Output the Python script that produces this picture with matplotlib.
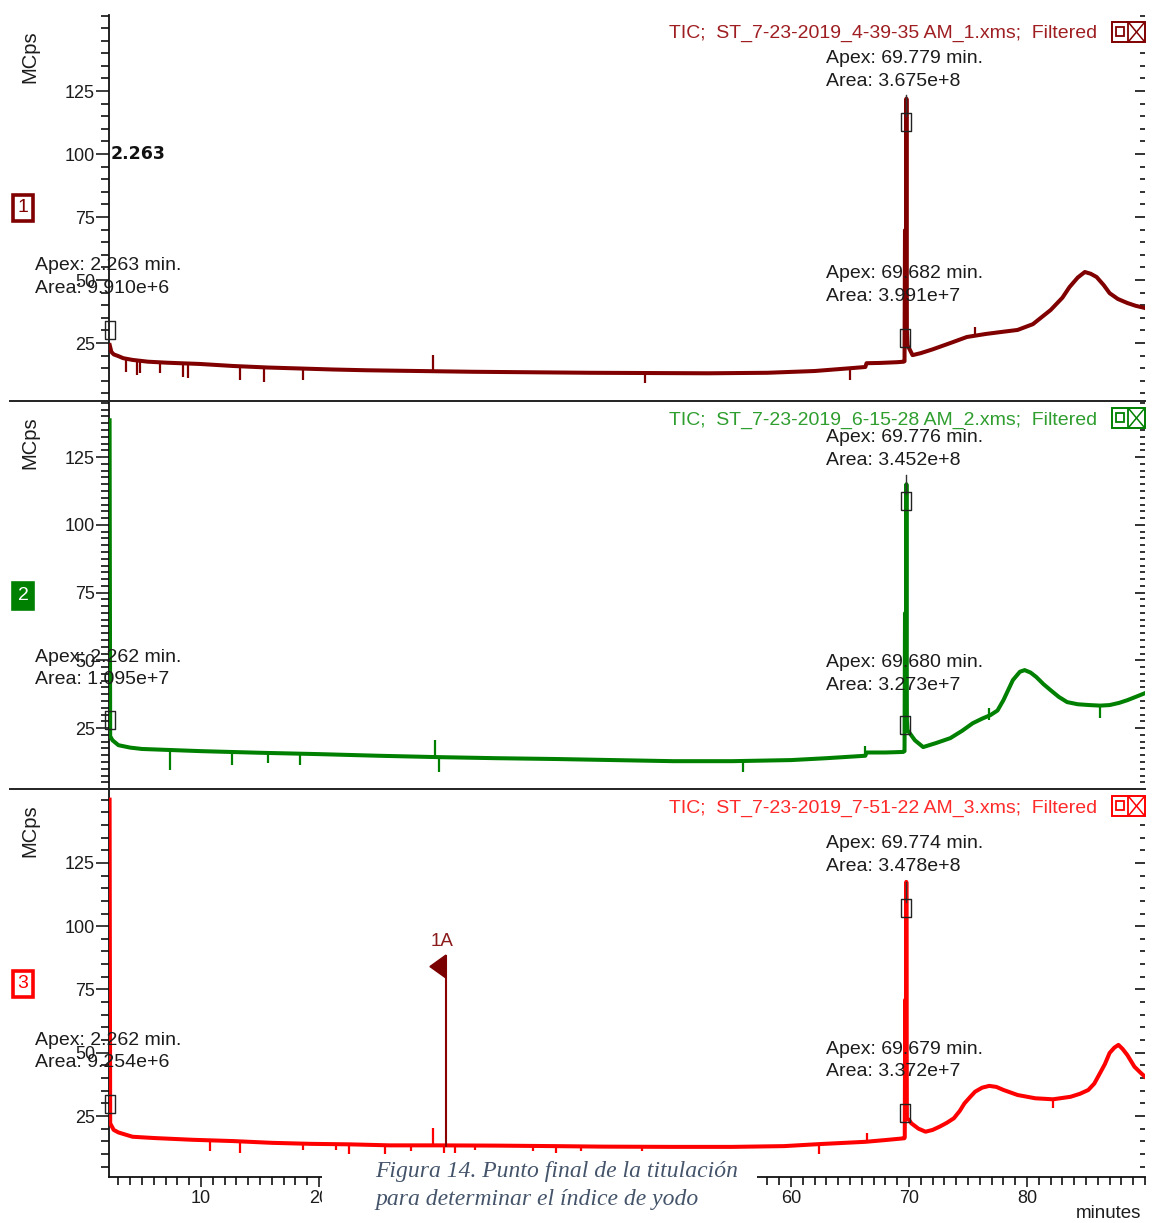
import matplotlib
matplotlib.use("Agg")
import matplotlib.pyplot as plt
from matplotlib.patches import Rectangle, Polygon
from matplotlib.lines import Line2D
from matplotlib.ticker import FixedLocator, MultipleLocator

plt.rcParams['font.family'] = ['Liberation Sans', 'DejaVu Sans']

# ---------------- data ----------------
# Panel 1 : ST_7-23-2019_4-39-35 AM_1.xms
t1 = [2.26, 2.40, 2.60, 3.0, 3.4, 4.2, 5.5, 7.1, 9.9, 12.7, 15.6, 18.4, 21.2, 24.0, 26.9,
      30.0, 33.0, 38.0, 43.0, 48.0, 53.0, 58.0, 62.0, 65.0, 66.3, 66.4, 67.5, 69.0, 69.55,
      69.62, 69.66, 69.70, 69.74, 69.78, 69.82, 69.88, 70.0, 70.3, 71.0, 72.0, 73.5, 74.9,
      76.5, 78.0, 79.2, 80.5, 82.0, 83.0, 83.6, 84.3, 84.9, 85.4, 85.9, 86.5, 87.0, 87.7,
      88.5, 89.2, 90.0]
v1 = [24.2, 21.5, 20.5, 19.8, 19.0, 18.3, 17.6, 17.2, 16.7, 15.9, 15.3, 14.9, 14.5, 14.2, 14.0,
      13.8, 13.6, 13.4, 13.2, 13.1, 13.0, 13.2, 13.9, 15.0, 15.5, 17.0, 17.1, 17.4, 17.6,
      17.8, 69.8, 28.0, 40.0, 122.0, 30.0, 24.0, 23.0, 20.2, 21.0, 22.5, 25.0, 27.4,
      28.6, 29.5, 30.2, 32.5, 38.1, 43.0, 47.2, 51.0, 53.2, 52.5, 51.2, 48.0, 44.8, 42.5,
      40.9, 39.8, 38.9]
spk1_t = [3.6, 4.6, 4.8, 6.5, 8.5, 8.9, 13.3, 15.3, 18.6, 29.7, 47.6, 65.0, 75.6]
spk1_lo = [13.6, 12.3, 13.0, 13.0, 11.6, 11.0, 10.3, 9.7, 10.2, 14.0, 9.1, 10.3, 27.5]
spk1_hi = [19.0, 18.3, 18.2, 17.4, 17.0, 16.9, 15.9, 15.4, 14.9, 20.4, 13.1, 15.0, 31.5]

# Panel 2 : ST_7-23-2019_6-15-28 AM_2.xms
t2 = [2.25, 2.30, 2.5, 3.0, 4.0, 5.0, 7.5, 10.0, 15.0, 20.0, 25.0, 30.0, 35.0, 40.0, 45.0,
      50.0, 55.0, 60.0, 63.0, 66.3, 66.4, 68.0, 69.5, 69.62, 69.66, 69.70, 69.74, 69.78,
      69.82, 69.88, 70.0, 70.5, 71.2, 72.3, 73.5, 74.5, 75.4, 76.2, 76.9, 77.5, 78.0, 78.8,
      79.4, 79.8, 80.3, 80.8, 81.4, 82.0, 82.7, 83.4, 84.3, 85.3, 86.2, 87.0, 87.8, 88.5,
      89.2, 90.0]
v2 = [138.6, 22.0, 20.5, 18.7, 17.8, 17.3, 16.9, 16.5, 15.9, 15.4, 14.8, 14.3, 13.9, 13.6, 13.2,
      12.8, 12.8, 13.2, 13.9, 14.8, 16.0, 16.0, 16.2, 16.5, 67.4, 27.0, 40.0, 115.0,
      28.0, 24.0, 23.5, 20.5, 18.0, 19.5, 21.3, 24.0, 26.8, 28.5, 29.8, 31.5, 35.3, 42.7,
      45.8, 46.4, 45.5, 43.8, 41.2, 39.0, 36.5, 34.6, 33.8, 33.5, 33.3, 33.5, 34.3, 35.3,
      36.5, 37.9]
spk2_t = [7.4, 12.6, 15.7, 18.4, 29.8, 30.2, 55.9, 66.3, 76.8, 86.2]
spk2_lo = [9.5, 11.5, 12.0, 11.5, 14.3, 8.8, 8.7, 14.8, 28.0, 28.7]
spk2_hi = [17.0, 16.2, 15.8, 15.5, 20.6, 14.3, 12.8, 18.5, 32.5, 33.3]

# Panel 3 : ST_7-23-2019_7-51-22 AM_3.xms
t3 = [2.25, 2.30, 2.6, 3.0, 3.7, 4.2, 6.0, 9.3, 12.7, 16.0, 19.3, 22.6, 26.0, 30.0, 35.0,
      40.0, 44.0, 50.0, 55.0, 59.4, 62.4, 66.3, 68.0, 69.6, 69.64, 69.68, 69.71, 69.74, 69.77,
      69.82, 70.0, 70.2, 70.8, 71.4, 72.0, 72.6, 73.2, 73.8, 74.3, 74.7, 75.2, 75.6, 76.2,
      76.8, 77.4, 78.0, 79.2, 80.7, 82.2, 83.7, 84.5, 85.2, 85.7, 86.1, 86.6, 87.0, 87.4,
      87.75, 88.1, 88.5, 88.8, 89.1, 89.6, 90.0]
v3 = [150.0, 22.1, 19.5, 18.5, 17.5, 16.8, 16.3, 15.6, 15.1, 14.4, 14.0, 13.8, 13.4, 13.4, 13.3,
      13.1, 12.9, 12.8, 12.8, 13.1, 13.9, 14.8, 15.5, 16.2, 16.5, 70.9, 27.0, 40.0, 117.5,
      24.0, 23.5, 22.1, 20.0, 18.8, 19.5, 20.8, 22.3, 24.1, 27.0, 30.0, 32.6, 34.6, 36.2,
      36.9, 36.5, 35.3, 33.3, 32.0, 31.6, 32.6, 33.8, 35.3, 37.8, 41.2, 45.5, 49.9, 52.0,
      53.1, 51.5, 49.1, 46.8, 44.5, 42.2, 40.5]
spk3_t = [10.8, 13.3, 18.6, 21.4, 22.5, 25.6, 27.8, 29.7, 30.6, 31.5, 33.2, 38.1, 40.1, 42.2,
          47.4, 62.4, 66.4, 82.2]
spk3_lo = [11.0, 10.5, 11.5, 11.5, 10.0, 9.5, 11.0, 13.4, 10.2, 10.5, 11.5, 11.0, 10.5, 11.0,
           11.3, 10.0, 14.8, 28.0]
spk3_hi = [15.5, 15.1, 14.1, 13.9, 13.8, 13.5, 13.4, 20.2, 13.4, 13.4, 13.4, 13.2, 13.1, 13.0,
           12.9, 13.9, 18.1, 31.6]

# peak annotations
files = ["ST_7-23-2019_4-39-35 AM_1.xms", "ST_7-23-2019_6-15-28 AM_2.xms",
         "ST_7-23-2019_7-51-22 AM_3.xms"]
apex_main = ["69.779", "69.776", "69.774"]
area_main = ["3.675e+8", "3.452e+8", "3.478e+8"]
apex_second = ["69.682", "69.680", "69.679"]
area_second = ["3.991e+7", "3.273e+7", "3.372e+7"]
apex_solvent = ["2.263", "2.262", "2.262"]
area_solvent = ["9.910e+6", "1.095e+7", "9.254e+6"]
label_main_y = [133.3, 127.9, 128.0]
label_second_y = [48.0, 45.1, 46.9]
label_solvent_y = [51.2, 47.0, 50.5]
sq_main = [112.7, 108.7, 107.2]
sq_second = [27.0, 26.1, 26.2]
sq_solvent = [30.2, 28.0, 29.9]
conn_top = [123.4, 118.4, 117.5]
ylims = [(2.0, 155.2), (2.9, 145.7), (0.9, 154.2)]
minor_step = [5, 2.5, 5]

# event marker 1A (panel 3)
flag_t, flag_top, flag_bot, flag_base = 30.76, 88.6, 79.5, 12.7
flag_tip_t = 29.4

x_ticks = [10, 20, 30, 40, 50, 60, 70, 80]

colors = ["#800000", "#008000", "#FF0000"]
title_colors = ["#9E1E22", "#2E9E2E", "#FF2A2A"]

traces = [(t1, v1), (t2, v2), (t3, v3)]
spikes = [(spk1_t, spk1_lo, spk1_hi), (spk2_t, spk2_lo, spk2_hi), (spk3_t, spk3_lo, spk3_hi)]

# ---------------- figure ----------------
W, H = 1153, 1223
fig = plt.figure(figsize=(W / 100, H / 100), dpi=100)
fig.patch.set_facecolor("white")


def fx(x):
    return x / W


def fy(y):
    return 1 - y / H


LEFT, RIGHT = 109, 1145
panels_px = [(15, 401), (401, 788), (789, 1177)]
TXT = "#1c1c1c"
FS = 13
AFS = 14
rect_marker = [(-0.5, -1), (0.5, -1), (0.5, 1), (-0.5, 1), (-0.5, -1)]

for i, (top, bot) in enumerate(panels_px):
    ax = fig.add_axes([fx(LEFT), fy(bot), fx(RIGHT) - fx(LEFT), fy(top) - fy(bot)])
    ax.set_facecolor("none")
    ax.set_xlim(2.2, 90.0)
    ax.set_ylim(*ylims[i])
    for s in ["top", "right", "bottom"]:
        ax.spines[s].set_visible(False)
    ax.spines["left"].set_color("#111")
    ax.spines["left"].set_linewidth(1.3)
    ax.yaxis.set_major_locator(FixedLocator([25, 50, 75, 100, 125]))
    ax.yaxis.set_minor_locator(MultipleLocator(minor_step[i]))
    ax.tick_params(axis="y", which="major", direction="out", length=9.5, width=1.2,
                   labelsize=FS, pad=0.5, colors=TXT)
    ax.tick_params(axis="y", which="minor", direction="out", length=6.0, width=1.2,
                   colors="#111")
    # right-side inner ticks
    axr = ax.twinx()
    axr.set_ylim(*ylims[i])
    for s in axr.spines.values():
        s.set_visible(False)
    axr.yaxis.set_major_locator(FixedLocator([25, 50, 75, 100, 125, 150]))
    axr.yaxis.set_minor_locator(MultipleLocator(minor_step[i]))
    axr.tick_params(axis="y", which="major", direction="in", length=7, width=1.2,
                    labelright=False, colors="#111")
    axr.tick_params(axis="y", which="minor", direction="in", length=3.8, width=1.2,
                    colors="#111")
    axr.set_zorder(ax.get_zorder() - 1)

    if i < 2:
        ax.tick_params(axis="x", which="both", bottom=False, labelbottom=False)
    else:
        ax.spines["bottom"].set_visible(True)
        ax.spines["bottom"].set_color("#111")
        ax.spines["bottom"].set_linewidth(1.3)
        ax.xaxis.set_major_locator(FixedLocator(x_ticks))
        ax.xaxis.set_minor_locator(MultipleLocator(1))
        ax.tick_params(axis="x", which="major", direction="out", length=7.5, width=1.2,
                       labelsize=FS, pad=2, colors=TXT)
        ax.tick_params(axis="x", which="minor", direction="out", length=6.0, width=1.2,
                       colors="#111")

    c = colors[i]
    tt, vv = traces[i]
    ax.plot(tt, vv, color=c, lw=2.9, solid_joinstyle="round", zorder=3)
    st, slo, shi = spikes[i]
    ax.vlines(st, slo, shi, color=c, lw=1.6, zorder=3)

    # connector and peak markers
    ax.plot([69.78, 69.78], [sq_main[i] + 2.5, conn_top[i]], color="#333", lw=1.0, zorder=4)
    ax.plot([69.78, 69.68, 2.26], [sq_main[i], sq_second[i], sq_solvent[i]], ls="none",
            marker=rect_marker, ms=13, mfc="none", mec="#222", mew=1.0, clip_on=False, zorder=5)

    # annotations
    ax.text(62.97, label_main_y[i], f"Apex: {apex_main[i]} min.\nArea: {area_main[i]}",
            fontsize=AFS, color=TXT, ha="left", va="center", linespacing=1.45, zorder=6)
    ax.text(62.97, label_second_y[i], f"Apex: {apex_second[i]} min.\nArea: {area_second[i]}",
            fontsize=AFS, color=TXT, ha="left", va="center", linespacing=1.45, zorder=6)
    ax.text(-4.07, label_solvent_y[i], f"Apex: {apex_solvent[i]} min.\nArea: {area_solvent[i]}",
            fontsize=AFS, color=TXT, ha="left", va="center", linespacing=1.45, zorder=6,
            clip_on=False)

    # header
    ax.text(0.9537, 0.953 if i == 0 else 0.951,
            f"TIC;  {files[i]};  Filtered", transform=ax.transAxes, fontsize=14,
            color=title_colors[i], ha="right", va="center")

    if i == 0:
        ax.text(2.35, 100, apex_solvent[0], fontsize=12.5, fontweight="bold", color="#111",
                ha="left", va="center", family="DejaVu Sans")
    if i == 2:
        ax.vlines([flag_t], [flag_base], [flag_top], color="#8B0000", lw=1.5, zorder=4)
        ax.add_patch(Polygon([(flag_t, flag_top), (flag_t, flag_bot),
                              (flag_tip_t, (flag_top + flag_bot) / 2)],
                             closed=True, color="#7A0000", zorder=4))
        ax.text(flag_t - 0.35, flag_top + 5.5, "1A", fontsize=13.5, color="#8B1A1A",
                ha="center", va="center")

    # MCps label
    fig.text(fx(30), fy(top + 42), "MCps", rotation=90, fontsize=14.5, color=TXT,
             ha="center", va="center")

    # numbered box
    box_c = [(208, "#800000", "white", "#800000"), (596, "#008000", "#008000", "white"),
             (984, "#FF0000", "white", "#FF0000")][i]
    yc, ec, fc, tc = box_c
    fig.add_artist(Rectangle((fx(13), fy(yc + 13)), 20 / W, 26 / H, transform=fig.transFigure,
                             edgecolor=ec, facecolor=fc, lw=2.6))
    fig.text(fx(23), fy(yc), str(i + 1), fontsize=14, color=tc, ha="center", va="center")

    # icon box
    y0 = top + 7
    fig.add_artist(Rectangle((fx(1112), fy(y0 + 20)), 33 / W, 20 / H, transform=fig.transFigure,
                             edgecolor=colors[i], facecolor="white", lw=1.4))
    fig.add_artist(Rectangle((fx(1116), fy(y0 + 14)), 8 / W, 9 / H, transform=fig.transFigure,
                             edgecolor=colors[i], facecolor="none", lw=1.3))
    fig.add_artist(Line2D([fx(1128), fx(1128)], [fy(y0), fy(y0 + 20)], color=colors[i], lw=1.3))
    fig.add_artist(Line2D([fx(1129), fx(1144)], [fy(y0 + 1), fy(y0 + 19)], color=colors[i], lw=1.1))
    fig.add_artist(Line2D([fx(1129), fx(1144)], [fy(y0 + 19), fy(y0 + 1)], color=colors[i], lw=1.1))

# separators
for yy in (401, 789):
    fig.add_artist(Line2D([fx(10), fx(1145)], [fy(yy), fy(yy)], color="#222", lw=1.4))

fig.text(fx(1141), fy(1214), "minutes", ha="right", va="center", fontsize=13.5, color=TXT)

# caption over the axis
fig.add_artist(Rectangle((fx(322), 0), (757 - 322) / W, fy(1154), transform=fig.transFigure,
                         facecolor="white", edgecolor="none", zorder=10))
fig.text(fx(375), fy(1172), "Figura 14. Punto final de la titulación", fontsize=17,
         family="Liberation Serif", style="italic", color="#44546A", ha="left", va="center",
         zorder=11)
fig.text(fx(375), fy(1199), "para determinar el índice de yodo", fontsize=17,
         family="Liberation Serif", style="italic", color="#44546A", ha="left", va="center",
         zorder=11)

fig.savefig("out.png", dpi=100, facecolor="white")
